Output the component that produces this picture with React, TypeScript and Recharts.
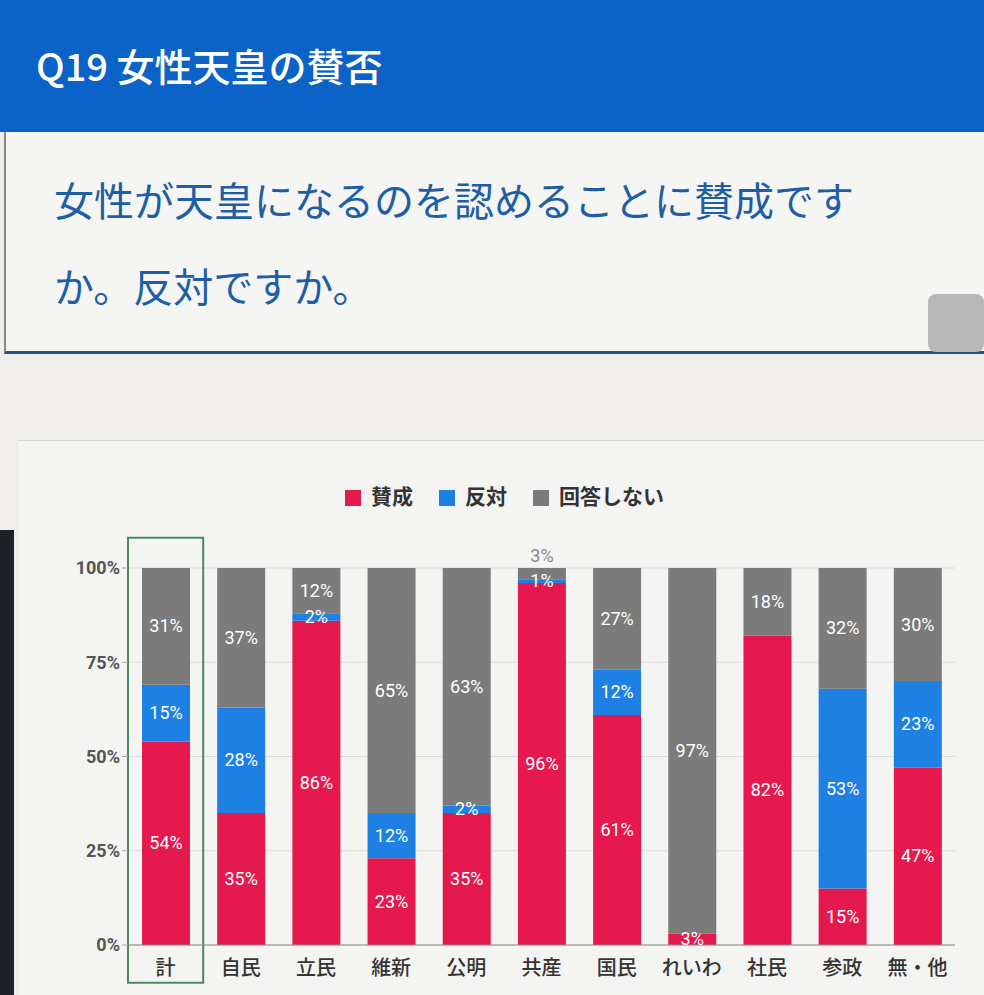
import { Bar, BarChart, CartesianGrid, LabelList, Legend, ReferenceArea, XAxis, YAxis } from 'recharts';

const parties = ['計', '自民', '立民', '維新', '公明', '共産', '国民', 'れいわ', '社民', '参政', '無・他'];
const sansei = [54, 35, 86, 23, 35, 96, 61, 3, 82, 15, 47];
const hantai = [15, 28, 2, 12, 2, 1, 12, 0, 0, 53, 23];
const mukaitou = [31, 37, 12, 65, 63, 3, 27, 97, 18, 32, 30];
const seriesNames = ['賛成', '反対', '回答しない'];
const yTicks = [0, 25, 50, 75, 100];

const red = '#e6194f';
const blue = '#1f80e4';
const grey = '#7b7b7b';
const font = "Roboto, 'Noto Sans CJK JP', sans-serif";

const data = parties.map((name, i) => ({
  name,
  sansei: sansei[i],
  hantai: hantai[i],
  mukaitou: mukaitou[i],
}));

function segmentLabel(top: boolean) {
  return (props: any) => {
    const { x, y, width, height, value } = props;
    if (!value) return null;
    const cx = Number(x) + Number(width) / 2;
    if (top && value < 5) {
      return (
        <text x={cx} y={Number(y) - 6} textAnchor="middle" fill="#8a8a8a" fontSize={18} fontFamily={font}>
          {value}%
        </text>
      );
    }
    return (
      <text x={cx} y={Number(y) + Number(height) / 2} dy={6} textAnchor="middle" fill="#fff" fontSize={18} fontFamily={font}>
        {value}%
      </text>
    );
  };
}

export default function App() {
  return (
    <div style={{ position: 'absolute', left: 0, top: 0, width: 984, height: 995, background: '#efeeea', overflow: 'hidden', fontFamily: "'Noto Sans CJK JP', sans-serif" }}>
      <div style={{ position: 'absolute', left: 0, top: 0, width: 984, height: 132, background: '#0b63c8' }}>
        <div style={{ position: 'absolute', left: 36, top: 40, color: '#fff', fontSize: 38, fontWeight: 500, lineHeight: '50px' }}>
          Q19 女性天皇の賛否
        </div>
      </div>
      <div style={{ position: 'absolute', left: 4, top: 132, width: 980, height: 222, background: '#f5f5f3', borderLeft: '2px solid #8a8a8a', borderBottom: '3px solid #274f8c', boxSizing: 'border-box' }}>
        <div style={{ position: 'absolute', left: 48, top: 24, width: 850, color: '#1d5ea6', fontSize: 40, fontWeight: 400, lineHeight: '86px' }}>
          女性が天皇になるのを認めることに賛成ですか。反対ですか。
        </div>
        <div style={{ position: 'absolute', right: 0, top: 162, width: 56, height: 58, background: '#b8b8b8', borderRadius: 8 }} />
      </div>
      <div style={{ position: 'absolute', left: 18, top: 440, width: 966, height: 555, background: '#f4f4f2', borderTop: '1px solid #d8d8d6' }} />
      <div style={{ position: 'absolute', left: 0, top: 530, width: 14, height: 465, background: '#1e2128' }} />
      <div style={{ position: 'absolute', left: 20, top: 470 }}>
        <BarChart width={950} height={520} data={data} margin={{ top: 68, right: 15, bottom: 15, left: 0 }} barSize={48}>
          <CartesianGrid vertical={false} stroke="#dcdcda" />
          <Legend
            verticalAlign="top"
            align="center"
            height={30}
            iconType="square"
            iconSize={16}
            itemSorter={(item: any) => seriesNames.indexOf(item.value)}
            wrapperStyle={{ top: 10, left: 30, fontFamily: font, fontSize: 21, fontWeight: 700 }}
            formatter={(value) => <span style={{ color: '#333', marginLeft: 6, marginRight: 16 }}>{value}</span>}
          />
          <XAxis dataKey="name" axisLine={{ stroke: '#888' }} tickLine={false} tick={{ fill: '#333', fontSize: 20, fontWeight: 500 }} tickMargin={10} />
          <YAxis
            width={108}
            domain={[0, 100]}
            ticks={yTicks}
            tickFormatter={(v) => `${v}%`}
            axisLine={false}
            tickLine={{ stroke: '#aaa' }}
            tick={{ fill: '#555', fontSize: 18, fontWeight: 700, fontFamily: font }}
          />
          <Bar dataKey="sansei" name={seriesNames[0]} stackId="a" fill={red} isAnimationActive={false}>
            <LabelList dataKey="sansei" content={segmentLabel(false)} />
          </Bar>
          <Bar dataKey="hantai" name={seriesNames[1]} stackId="a" fill={blue} isAnimationActive={false}>
            <LabelList dataKey="hantai" content={segmentLabel(false)} />
          </Bar>
          <Bar dataKey="mukaitou" name={seriesNames[2]} stackId="a" fill={grey} isAnimationActive={false}>
            <LabelList dataKey="mukaitou" content={segmentLabel(true)} />
          </Bar>
          <ReferenceArea x1="計" x2="計" y1={-10} y2={108} ifOverflow="visible" fill="none" stroke="#4a8a63" strokeWidth={2} />
        </BarChart>
      </div>
    </div>
  );
}
